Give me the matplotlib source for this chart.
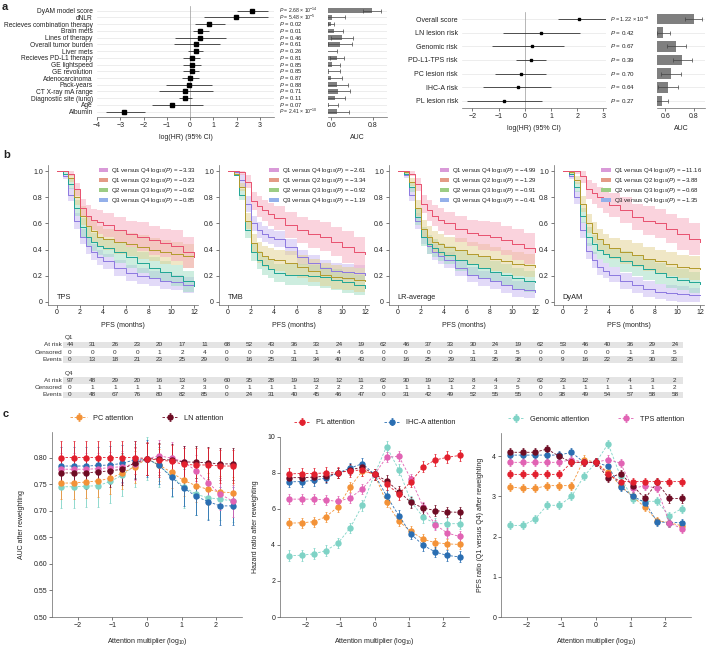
import numpy as np
import matplotlib
matplotlib.use('Agg')
import matplotlib.pyplot as plt
from matplotlib.patches import Patch, Rectangle

plt.rcParams['font.family'] = ['Liberation Sans', 'DejaVu Sans']
plt.rcParams['mathtext.fontset'] = 'custom'
plt.rcParams['mathtext.rm'] = 'Liberation Sans'
plt.rcParams['mathtext.it'] = 'Liberation Sans:italic'
plt.rcParams['axes.linewidth'] = 0.5
plt.rcParams['text.color'] = '#222222'
plt.rcParams['axes.labelcolor'] = '#222222'
plt.rcParams['xtick.color'] = '#444444'
plt.rcParams['ytick.color'] = '#444444'
plt.rcParams['xtick.labelcolor'] = '#222222'
plt.rcParams['ytick.labelcolor'] = '#222222'

# ---------------- panel a: data ----------------
clin_names = ['DyAM model score', 'dNLR', 'Recieves combination therapy', 'Brain mets',
              'Lines of therapy', 'Overall tumor burden', 'Liver mets', 'Recieves PD-L1 therapy',
              'GE lightspeed', 'GE revolution', 'Adenocarcinoma', 'Pack-years',
              'CT X-ray mA range', 'Diagnostic site (lung)', 'Age', 'Albumin']
clin_loghr = [2.65, 1.97, 0.83, 0.44, 0.43, 0.27, 0.23, 0.07, 0.07, 0.06, 0.0, -0.06, -0.2, -0.21, -0.77, -2.83]
clin_lo = [2.0, 0.6, 0.19, 0.11, -0.67, -0.71, -0.11, -0.3, -0.3, -0.3, -0.36, -1.03, -1.32, -0.5, -1.62, -3.63]
clin_hi = [3.33, 3.33, 1.5, 0.79, 1.55, 1.26, 0.57, 0.43, 0.48, 0.4, 0.36, 0.94, 0.97, 0.1, 0.53, -1.96]
clin_p = [r'2.68 × 10$^{-14}$', r'5.48 × 10$^{-5}$', '0.02', '0.01', '0.46', '0.61', '0.26', '0.81',
          '0.85', '0.85', '0.87', '0.88', '0.71', '0.11', '0.07', r'2.41 × 10$^{-10}$']
clin_auc = [0.795, 0.603, 0.60, 0.615, 0.652, 0.643, 0.575, 0.628, 0.603, 0.59, 0.60, 0.63, 0.633, 0.617, 0.59, 0.63]
clin_auc_err = [0.045, 0.064, 0.015, 0.042, 0.053, 0.057, 0.055, 0.035, 0.037, 0.05, 0.052, 0.05, 0.057, 0.05, 0.045, 0.056]

img_names = ['Overall score', 'LN lesion risk', 'Genomic risk', 'PD-L1-TPS risk',
             'PC lesion risk', 'IHC-A risk', 'PL lesion risk']
img_loghr = [2.06, 0.63, 0.29, 0.25, -0.15, -0.28, -0.78]
img_lo = [1.27, -0.82, -1.27, -0.32, -1.14, -1.58, -2.2]
img_hi = [3.23, 2.09, 1.49, 0.82, 0.82, 0.99, 0.66]
img_p = [r'1.22 × 10$^{-8}$', '0.42', '0.67', '0.39', '0.70', '0.64', '0.27']
img_auc = [0.80, 0.584, 0.677, 0.72, 0.64, 0.617, 0.576]
img_auc_err = [0.062, 0.045, 0.065, 0.065, 0.07, 0.07, 0.04]

# ---------------- panel b: data ----------------
km_t = [0, 0.5, 1, 1.5, 2, 2.5, 3, 3.5, 4, 5, 6, 7, 8, 9, 10, 11, 12]
tps_q1 = [1, 1, 0.98, 0.86, 0.72, 0.66, 0.63, 0.61, 0.59, 0.55, 0.52, 0.50, 0.47, 0.45, 0.43, 0.38, 0.34]
tps_q2 = [1, 1, 0.95, 0.80, 0.66, 0.58, 0.54, 0.50, 0.48, 0.46, 0.44, 0.42, 0.40, 0.38, 0.37, 0.35, 0.34]
tps_q3 = [1, 0.98, 0.90, 0.72, 0.57, 0.50, 0.46, 0.43, 0.41, 0.38, 0.34, 0.30, 0.26, 0.23, 0.20, 0.16, 0.12]
tps_q4 = [1, 0.96, 0.82, 0.62, 0.50, 0.43, 0.38, 0.34, 0.31, 0.26, 0.22, 0.20, 0.18, 0.16, 0.15, 0.13, 0.12]
tmb_q1 = [1, 1, 0.99, 0.92, 0.77, 0.73, 0.70, 0.67, 0.64, 0.59, 0.55, 0.52, 0.50, 0.46, 0.42, 0.38, 0.37]
tmb_q2 = [1, 0.98, 0.88, 0.62, 0.45, 0.38, 0.35, 0.33, 0.32, 0.30, 0.27, 0.24, 0.21, 0.19, 0.18, 0.17, 0.16]
tmb_q3 = [1, 0.97, 0.82, 0.55, 0.38, 0.32, 0.28, 0.25, 0.22, 0.21, 0.21, 0.20, 0.19, 0.17, 0.15, 0.13, 0.11]
tmb_q4 = [1, 0.99, 0.93, 0.75, 0.60, 0.55, 0.52, 0.50, 0.48, 0.42, 0.34, 0.30, 0.26, 0.24, 0.23, 0.22, 0.21]
lr_q1 = [1, 1, 0.98, 0.90, 0.75, 0.70, 0.66, 0.63, 0.60, 0.56, 0.53, 0.51, 0.50, 0.47, 0.44, 0.41, 0.38]
lr_q2 = [1, 0.99, 0.92, 0.72, 0.56, 0.50, 0.46, 0.44, 0.42, 0.40, 0.37, 0.35, 0.33, 0.31, 0.29, 0.28, 0.27]
lr_q3 = [1, 0.98, 0.88, 0.65, 0.50, 0.44, 0.41, 0.38, 0.36, 0.32, 0.29, 0.26, 0.23, 0.21, 0.18, 0.16, 0.15]
lr_q4 = [1, 0.97, 0.82, 0.62, 0.50, 0.43, 0.38, 0.35, 0.32, 0.26, 0.21, 0.18, 0.16, 0.13, 0.10, 0.09, 0.08]
dyam_q1 = [1, 1, 1, 0.96, 0.86, 0.83, 0.80, 0.77, 0.74, 0.70, 0.65, 0.62, 0.60, 0.56, 0.52, 0.48, 0.46]
dyam_q2 = [1, 0.99, 0.93, 0.75, 0.60, 0.53, 0.48, 0.44, 0.41, 0.38, 0.36, 0.33, 0.31, 0.29, 0.27, 0.26, 0.25]
dyam_q3 = [1, 0.98, 0.88, 0.66, 0.50, 0.44, 0.40, 0.37, 0.34, 0.31, 0.28, 0.25, 0.22, 0.19, 0.17, 0.15, 0.14]
dyam_q4 = [1, 0.96, 0.80, 0.55, 0.39, 0.32, 0.27, 0.24, 0.21, 0.16, 0.13, 0.10, 0.08, 0.07, 0.06, 0.05, 0.05]
# CI half widths per quartile
ci_q1 = [0, 0, 0.02, 0.05, 0.07, 0.08, 0.08, 0.09, 0.09, 0.10, 0.10, 0.11, 0.11, 0.11, 0.12, 0.12, 0.12]
ci_q2 = [0, 0.01, 0.03, 0.06, 0.07, 0.08, 0.08, 0.08, 0.08, 0.09, 0.09, 0.09, 0.09, 0.09, 0.09, 0.09, 0.09]
ci_q3 = [0, 0.01, 0.04, 0.06, 0.07, 0.07, 0.07, 0.07, 0.07, 0.08, 0.08, 0.08, 0.08, 0.08, 0.08, 0.08, 0.08]
ci_q4 = [0, 0.02, 0.05, 0.06, 0.06, 0.06, 0.06, 0.06, 0.06, 0.06, 0.06, 0.06, 0.06, 0.06, 0.06, 0.06, 0.06]

km_names = ['TPS', 'TMB', 'LR-average', 'DyAM']
km_logp = [['−3.33', '−0.23', '−0.62', '−0.85'],
           ['−2.61', '−3.34', '−0.92', '−1.19'],
           ['−4.99', '−1.29', '−0.91', '−0.41'],
           ['−11.16', '−3.88', '−0.68', '−1.35']]
km_pairs = ['Q1 versus Q4', 'Q1 versus Q2', 'Q2 versus Q3', 'Q3 versus Q4']

q1_at_risk = [44, 31, 26, 23, 20, 17, 11, 68, 52, 43, 36, 33, 24, 19,
              62, 46, 37, 33, 30, 24, 19, 62, 53, 46, 40, 36, 29, 24]
q1_censored = [0, 0, 0, 0, 1, 2, 4, 0, 0, 0, 1, 1, 4, 6,
               0, 0, 0, 0, 1, 3, 5, 0, 0, 0, 0, 1, 3, 5]
q1_events = [0, 13, 18, 21, 23, 25, 29, 0, 16, 25, 31, 34, 40, 43,
             0, 16, 25, 29, 31, 35, 38, 0, 9, 16, 22, 25, 30, 33]
q4_at_risk = [97, 48, 29, 20, 16, 13, 9, 60, 35, 28, 19, 13, 12, 11,
              62, 30, 19, 12, 8, 4, 2, 62, 23, 12, 7, 4, 3, 2]
q4_censored = [0, 1, 1, 1, 1, 2, 3, 0, 1, 1, 1, 2, 2, 2,
               0, 1, 1, 1, 2, 3, 5, 0, 1, 1, 1, 1, 1, 2]
q4_events = [0, 48, 67, 76, 80, 82, 85, 0, 24, 31, 40, 45, 46, 47,
             0, 31, 42, 49, 52, 55, 55, 0, 38, 49, 54, 57, 58, 58]

# ---------------- panel c: data ----------------
att_x = [-2.48, -2.12, -1.77, -1.42, -1.06, -0.71, -0.35, 0, 0.35, 0.71, 1.06, 1.42, 1.77, 2.12, 2.48]
att_names = ['PC attention', 'LN attention', 'PL attention', 'IHC-A attention', 'Genomic attention', 'TPS attention']
att_colors = ['#f39237', '#6e0c24', '#e2202e', '#2a6eb2', '#7fd3c6', '#e163b4']

auc_pc = [0.752, 0.752, 0.754, 0.756, 0.761, 0.771, 0.783, 0.798, 0.786, 0.772, 0.757, 0.747, 0.740, 0.735, 0.734]
auc_ln = [0.771, 0.771, 0.771, 0.773, 0.775, 0.778, 0.790, 0.798, 0.797, 0.795, 0.792, 0.791, 0.790, 0.788, 0.788]
auc_pl = [0.800, 0.800, 0.800, 0.800, 0.800, 0.800, 0.800, 0.798, 0.795, 0.793, 0.787, 0.786, 0.786, 0.784, 0.784]
auc_ihc = [0.784, 0.784, 0.784, 0.785, 0.786, 0.789, 0.796, 0.798, 0.785, 0.763, 0.743, 0.727, 0.717, 0.709, 0.709]
auc_gen = [0.745, 0.745, 0.746, 0.747, 0.755, 0.767, 0.785, 0.798, 0.785, 0.765, 0.745, 0.731, 0.724, 0.722, 0.718]
auc_tps = [0.778, 0.778, 0.778, 0.779, 0.781, 0.783, 0.788, 0.798, 0.803, 0.799, 0.792, 0.775, 0.753, 0.731, 0.718]
auc_err = [0.03, 0.03, 0.031, 0.035, 0.04, 0.03]

hr_pc = [5.2, 5.22, 5.28, 5.55, 6.1, 7.2, 8.1, 7.9, 6.35, 5.3, 4.75, 4.3, 4.12, 4.05, 4.02]
hr_ln = [7.72, 7.72, 7.75, 7.8, 7.98, 8.15, 8.3, 7.9, 7.55, 6.95, 6.35, 6.03, 5.9, 5.82, 5.8]
hr_pl = [7.93, 7.95, 7.95, 7.98, 8.0, 8.1, 8.15, 7.9, 7.35, 6.82, 7.5, 8.33, 8.7, 8.85, 8.95]
hr_ihc = [7.49, 7.5, 7.57, 7.7, 7.98, 8.25, 8.5, 7.9, 6.71, 5.62, 4.6, 3.97, 3.6, 3.41, 3.33]
hr_gen = [3.4, 3.42, 3.5, 3.67, 4.1, 4.93, 6.2, 7.9, 9.44, 8.15, 6.4, 5.53, 5.17, 5.17, 5.17]
hr_tps = [6.53, 6.53, 6.53, 6.48, 6.4, 6.6, 7.1, 7.9, 8.85, 8.9, 7.65, 6.07, 5.11, 4.65, 4.46]
hr_err = [0.28, 0.3, 0.32, 0.3, 0.3, 0.28]

pfs_pc = [3.24, 3.2, 3.2, 3.27, 3.27, 3.27, 3.92, 3.85, 3.6, 3.27, 3.0, 2.73, 2.4, 2.35, 2.27]
pfs_ln = [4.1, 4.1, 4.1, 4.18, 4.0, 3.85, 3.85, 3.85, 3.45, 3.57, 3.27, 2.95, 3.35, 2.95, 2.95]
pfs_pl = [3.55, 3.55, 3.55, 3.55, 3.55, 3.85, 3.85, 3.85, 3.55, 3.37, 3.37, 3.37, 3.37, 3.37, 3.37]
pfs_ihc = [4.03, 4.03, 4.03, 4.03, 4.03, 4.1, 3.85, 3.85, 3.75, 3.24, 3.01, 2.85, 2.37, 2.35, 2.35]
pfs_gen = [2.28, 2.28, 2.43, 2.78, 2.78, 3.0, 3.5, 3.85, 4.31, 3.5, 2.93, 2.88, 2.88, 2.52, 2.7]
pfs_tps = [3.85, 3.85, 3.85, 3.85, 3.85, 3.92, 3.85, 3.85, 3.92, 3.83, 3.2, 3.27, 3.2, 2.35, 2.2]
pfs_err = [0.1, 0.1, 0.1, 0.1, 0.1, 0.1]

W, H = 707, 648
fig = plt.figure(figsize=(W / 100, H / 100), dpi=100)


def px_axes(x0, y0, x1, y1):
    return fig.add_axes([x0 / W, 1 - y1 / H, (x1 - x0) / W, (y1 - y0) / H])


def style_ticks(ax, size=5):
    ax.tick_params(length=2, width=0.5, labelsize=size, pad=1.5)


# ---------------- panel a ----------------
def forest(ax, names, hr, lo, hi, pvals, ms, fs, pfs):
    y = np.arange(len(names))
    hr = np.array(hr)
    for yi in y:
        ax.axhline(yi, color='#e6e6e6', lw=0.5, zorder=0)
    ax.axvline(0, color='#9a9a9a', lw=0.5, zorder=0)
    ax.errorbar(hr, y, xerr=[hr - np.array(lo), np.array(hi) - hr], fmt='s', color='black',
                ecolor='#333333', ms=ms, elinewidth=0.6, capsize=0, zorder=3)
    ax.set_yticks(y)
    ax.set_yticklabels(names)
    for s in ['top', 'right', 'left']:
        ax.spines[s].set_visible(False)
    ax.spines['bottom'].set_color('#666666')
    style_ticks(ax)
    ax.tick_params(axis='y', length=0, pad=3, labelsize=fs)
    for yi, p in zip(y, pvals):
        # the P values with a power of ten are a touch smaller so rows do not collide
        size = pfs - 0.5 if '$' in p else pfs
        ax.text(1.03, yi, r'$P$ = ' + p, transform=ax.get_yaxis_transform(), fontsize=size,
                va='center', ha='left')
    ax.set_xlabel('log(HR) (95% CI)', fontsize=5, labelpad=4)


def auc_bars(ax, auc, err, bh):
    y = np.arange(len(auc))
    auc = np.array(auc)
    for yi in y:
        ax.axhline(yi, color='#e6e6e6', lw=0.5, zorder=0)
    ax.barh(y, auc - 0.5, left=0.5, height=bh, color='#7f7f7f', zorder=2)
    ax.errorbar(auc, y, xerr=err, fmt='none', ecolor='#444444', elinewidth=0.5, capsize=1.2,
                capthick=0.5, zorder=3)
    ax.set_yticks([])
    for s in ['top', 'right', 'left']:
        ax.spines[s].set_visible(False)
    ax.spines['bottom'].set_color('#666666')
    ax.set_xticks([0.6, 0.8])
    style_ticks(ax)
    ax.set_xlabel('AUC', fontsize=5, labelpad=4)


ax = px_axes(97, 5.7, 274, 116.7)
forest(ax, clin_names, clin_loghr, clin_lo, clin_hi, clin_p, 2.6, 4.8, 4.2)
ax.set_ylim(len(clin_names) - 0.25, -0.75)
ax.set_xlim(-4, 3.6)
ax.set_xticks([-4, -3, -2, -1, 0, 1, 2, 3])
ax.set_xticklabels(['−4', '−3', '−2', '−1', '0', '1', '2', '3'])

ax = px_axes(328, 5.7, 387, 116.7)
auc_bars(ax, clin_auc, clin_auc_err, 0.68)
ax.set_ylim(len(clin_auc) - 0.25, -0.75)
ax.set_xlim(0.585, 0.867)

ax = px_axes(462, 12.2, 606, 107.8)
forest(ax, img_names, img_loghr, img_lo, img_hi, img_p, 2.0, 5.0, 4.5)
ax.set_ylim(len(img_names) - 0.5, -0.5)
ax.set_xlim(-2.4, 3.1)
ax.set_xticks([-2, -1, 0, 1, 2, 3])
ax.set_xticklabels(['−2', '−1', '0', '1', '2', '3'])

ax = px_axes(657, 12.2, 705, 107.8)
auc_bars(ax, img_auc, img_auc_err, 0.8)
ax.set_ylim(len(img_auc) - 0.5, -0.5)
ax.set_xlim(0.54, 0.88)

# ---------------- panel b ----------------
km_sets = [[tps_q1, tps_q2, tps_q3, tps_q4], [tmb_q1, tmb_q2, tmb_q3, tmb_q4],
           [lr_q1, lr_q2, lr_q3, lr_q4], [dyam_q1, dyam_q2, dyam_q3, dyam_q4]]
ci_sets = [ci_q1, ci_q2, ci_q3, ci_q4]
q_line = ['#e8506e', '#b39a2c', '#1fa594', '#8c78e0']
q_fill = ['#f7a8bc', '#e3d08e', '#9cdcc0', '#c6b6f2']
leg_cols = ['#d99ad8', '#e49a86', '#9ccc84', '#94b0ea']
km_zero = [57, 228, 398, 563]
mpx = 11.44

for k in range(4):
    z = km_zero[k]
    ax = px_axes(z - 0.8 * mpx, 164.6, z + 12.3 * mpx, 304.6)
    t = np.array(km_t)
    for q in [3, 2, 1, 0]:
        s = np.array(km_sets[k][q])
        c = np.array(ci_sets[q])
        ax.fill_between(t, np.clip(s - c, 0, 1), np.clip(s + c, 0, 1), step='post',
                        color=q_fill[q], alpha=0.5, lw=0)
    for q in [3, 2, 1, 0]:
        ax.step(t, km_sets[k][q], where='post', color=q_line[q], lw=0.7)
    ax.set_xlim(-0.8, 12.3)
    ax.set_ylim(-0.02, 1.05)
    ax.set_xticks(range(0, 13, 2))
    ax.set_yticks([0, 0.2, 0.4, 0.6, 0.8, 1.0])
    ax.set_yticklabels(['0', '0.2', '0.4', '0.6', '0.8', '1.0'])
    for s in ['top', 'right']:
        ax.spines[s].set_visible(False)
    ax.spines['left'].set_color('#666666')
    ax.spines['bottom'].set_color('#666666')
    style_ticks(ax)
    ax.set_xlabel('PFS (months)', fontsize=5, labelpad=4)
    ax.text(0.06, 0.04, km_names[k], transform=ax.transAxes, fontsize=5.3)
    handles = [Patch(facecolor=leg_cols[i], edgecolor='none') for i in range(4)]
    labels = [km_pairs[i] + ' log$_{10}$($P$) = ' + km_logp[k][i] for i in range(4)]
    ax.legend(handles, labels, loc='upper right', bbox_to_anchor=(1.02, 1.02), frameon=False,
              fontsize=4.4, handlelength=1.6, handleheight=0.6, handletextpad=0.5,
              labelspacing=0.15, borderpad=0.2)

# overlay axes in pixel coordinates for tables and panel letters
ov = fig.add_axes([0, 0, 1, 1])
ov.set_xlim(0, W)
ov.set_ylim(H, 0)
ov.axis('off')

col_x = [70 + i * 22.4 for i in range(28)]
tables = [('Q1', 337.7, [q1_at_risk, q1_censored, q1_events]),
          ('Q4', 373.3, [q4_at_risk, q4_censored, q4_events])]
for qname, y0, rows in tables:
    ov.text(64.5, y0, qname, fontsize=4.6, va='center', ha='left', color='#333333')
    for r, (rname, vals) in enumerate(zip(['At risk', 'Censored', 'Events'], rows)):
        yy = y0 + 7.2 * (r + 1)
        if r != 1:
            ov.add_patch(Rectangle((63, yy - 3.2), 620, 6.4, color='#e4e4e4', lw=0, zorder=0))
        ov.text(62, yy, rname, fontsize=4.6, va='center', ha='right', color='#333333')
        for xx, v in zip(col_x, vals):
            ov.text(xx, yy, str(v), fontsize=4.6, va='center', ha='center', color='#333333')

ov.text(2, 2, 'a', fontsize=8, fontweight='bold', va='top')
ov.text(3, 150, 'b', fontsize=8, fontweight='bold', va='top')
ov.text(3, 409, 'c', fontsize=8, fontweight='bold', va='top')

# ---------------- panel c ----------------
c_data = [([auc_pc, auc_ln, auc_pl, auc_ihc, auc_gen, auc_tps], auc_err),
          ([hr_pc, hr_ln, hr_pl, hr_ihc, hr_gen, hr_tps], hr_err),
          ([pfs_pc, pfs_ln, pfs_pl, pfs_ihc, pfs_gen, pfs_tps], pfs_err)]
c_boxes = [(52, 432, 242, 617), (280, 436.5, 469, 617), (501, 433, 691, 617)]
c_ylabels = ['AUC after reweighting', 'Hazard ratio after reweighting',
             'PFS ratio (Q1 versus Q4) after reweighting']
draw_order = [4, 0, 3, 5, 1, 2]

for k in range(3):
    ax = px_axes(*c_boxes[k])
    series, errs = c_data[k]
    conts = {}
    for i in draw_order:
        conts[i] = ax.errorbar(att_x, series[i], yerr=errs[i], fmt='o', ls=(0, (3, 2)), lw=0.6,
                               ms=3.6, color=att_colors[i], elinewidth=0.6, capsize=1,
                               capthick=0.5)
    ax.set_xlim(-2.75, 2.75)
    ax.set_xticks([-2, -1, 0, 1, 2])
    ax.set_xticklabels(['−2', '−1', '0', '1', '2'])
    for s in ['top', 'right']:
        ax.spines[s].set_visible(False)
    ax.spines['left'].set_color('#666666')
    ax.spines['bottom'].set_color('#666666')
    style_ticks(ax)
    ax.set_xlabel('Attention multiplier (log$_{10}$)', fontsize=5, labelpad=5)
    ax.set_ylabel(c_ylabels[k], fontsize=5, labelpad=6)
    pair = [2 * k, 2 * k + 1]
    ax.legend([conts[i] for i in pair], [att_names[i] for i in pair], loc='lower center',
              bbox_to_anchor=(0.5, 1.02), ncol=2, frameon=False, fontsize=5.3,
              handlelength=2.2, columnspacing=4, handletextpad=0.8)
    if k == 0:
        ax.set_ylim(0.5, 0.848)
        ax.set_yticks([0.5, 0.55, 0.6, 0.65, 0.7, 0.75, 0.8])
        ax.set_yticklabels(['0.50', '0.55', '0.60', '0.65', '0.70', '0.75', '0.80'])
    elif k == 1:
        ax.set_ylim(0, 10)
        ax.set_yticks([0, 2, 4, 6, 8, 10])
    else:
        ax.set_ylim(0, 4.58)
        ax.set_yticks([0, 1, 2, 3, 4])

fig.savefig('out.png', dpi=100)
